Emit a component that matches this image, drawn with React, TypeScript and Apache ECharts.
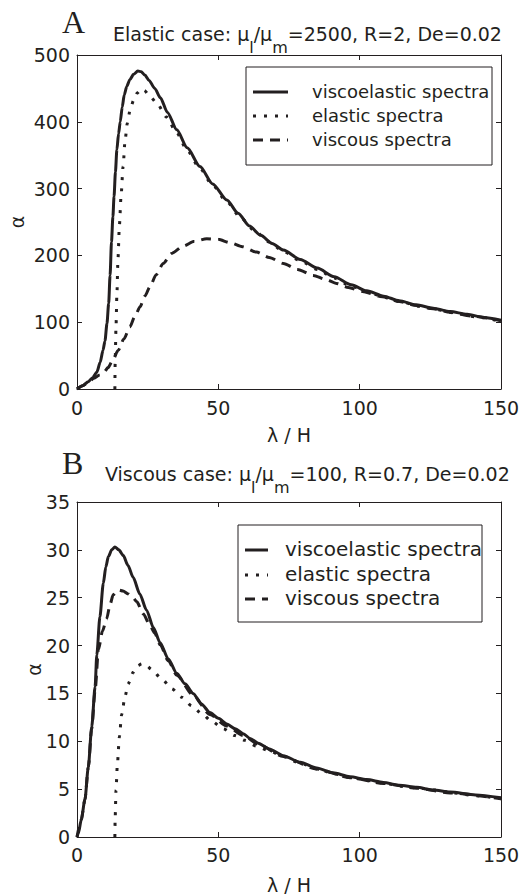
import React, { useEffect, useRef } from "react";
import * as echarts from "echarts";

// ---------------- data ----------------
const xTicks = [0, 50, 100, 150];
const yTicksA = [0, 100, 200, 300, 400, 500];
const yTicksB = [0, 5, 10, 15, 20, 25, 30, 35];

const seriesNames = ["viscoelastic spectra", "elastic spectra", "viscous spectra"];

const aVisco: number[][] = [
  [0, 0], [2, 5], [4, 11], [5.5, 17], [7, 25], [8.2, 40], [9.2, 58], [9.9, 72], [10.6, 98],
  [11.2, 128], [11.7, 170], [12.2, 220], [12.7, 258], [13.1, 288], [13.6, 325], [14.1, 358],
  [14.7, 382], [15.3, 400], [16, 422], [16.7, 440], [17.6, 453], [18.7, 463], [20, 471],
  [21.5, 476], [22.7, 475], [24, 470], [25.5, 462], [27.5, 450], [29.5, 436], [32, 414],
  [35.3, 388], [39, 361], [43.5, 333], [48, 307], [53, 283], [57, 263], [61, 244], [65, 230],
  [69, 218], [73, 208], [79, 194], [85, 181], [91, 168], [97, 156], [102.5, 147], [108.5, 139],
  [114, 132], [120, 126], [126, 121], [132, 116], [138, 112], [144, 107], [150, 103],
];
const aElastic: number[][] = [
  [13.4, 0], [13.5, 40], [13.8, 93], [14.1, 140], [14.5, 195], [15, 245], [15.6, 290],
  [16.3, 333], [17, 372], [17.8, 398], [18.8, 418], [20, 432], [21.3, 443], [22.6, 449],
  [23.8, 447], [25.5, 440], [28.2, 428], [31.7, 407], [35.3, 383], [39, 357], [43.5, 330],
  [48, 305], [53, 280], [58, 256], [63, 236], [68, 220], [73, 206], [79, 192], [85, 179],
  [91, 166], [97, 154], [103, 145], [109, 137], [115, 130], [121, 124], [127, 119], [133, 114],
  [141, 108], [150, 101],
];
const aViscous: number[][] = [
  [0, 0], [2, 5], [4, 10], [6, 16], [8, 21], [9.3, 24], [11, 32], [12.5, 42], [14.6, 58],
  [16.6, 75], [18.7, 93], [20.5, 109], [22.3, 123], [24, 139], [25.8, 153], [28, 171],
  [30.5, 188], [33.5, 203], [37.6, 214], [41.5, 221], [45.9, 225], [50, 224], [54.1, 219],
  [58.5, 213], [63.5, 205], [68, 197], [73, 188], [78, 179], [83.6, 170], [88, 164],
  [91.8, 158], [96, 152], [101, 146], [108, 138], [114, 131], [120, 125], [126, 120],
  [132, 115], [140, 109], [150, 102],
];

const bVisco: number[][] = [
  [0, 0], [0.5, 0.4], [1.5, 1.8], [2.8, 3.9], [4, 7.3], [5.2, 11.5], [6.4, 15.7], [7, 19],
  [8.1, 23], [9.3, 26.5], [10.2, 28.2], [11.1, 29.3], [12.3, 30], [13.4, 30.3], [14.8, 30],
  [16.4, 29.4], [18, 28.4], [19.9, 27.1], [22.2, 25.4], [24.6, 23.7], [27, 21.9], [29.4, 20.3],
  [32.3, 18.6], [35.3, 17.1], [38.2, 16], [41.1, 15], [44, 13.9], [47, 13], [50, 12.4],
  [53, 11.8], [56, 11.3], [58.8, 10.8], [61.2, 10.3], [64.1, 9.8], [68, 9.2], [73, 8.5],
  [79, 7.8], [84.8, 7.2], [90.5, 6.7], [96.6, 6.3], [102.5, 6], [108.4, 5.7], [114, 5.4],
  [120.2, 5.2], [126, 4.9], [132, 4.7], [141, 4.4], [150, 4.1],
];
const bElastic: number[][] = [
  [13.4, 0], [13.5, 2], [13.8, 4.9], [14.3, 7.7], [15, 10.5], [15.8, 12.8], [17, 14.7],
  [18.1, 16], [19.9, 17.2], [21.5, 17.9], [22.9, 18.1], [24.6, 17.9], [26.4, 17.5], [30, 16.5],
  [33.5, 15.5], [37, 14.6], [40.6, 13.7], [44.1, 12.9], [47.6, 12.1], [51.8, 11.3],
  [55.9, 10.6], [59.4, 10.1], [63.5, 9.5], [68, 9], [73, 8.4], [79, 7.7], [85, 7.1], [91, 6.6],
  [97, 6.2], [103, 5.9], [109, 5.6], [115, 5.3], [121, 5.1], [127, 4.9], [133, 4.6],
  [141, 4.3], [150, 4.0],
];
const bViscous: number[][] = [
  [0, 0], [1.5, 1.8], [2.8, 3.9], [4, 7.3], [5.2, 11.3], [6.4, 15.3], [7.6, 19.6], [9, 21.5],
  [10.5, 22.8], [11.7, 24.3], [12.8, 25.3], [14.6, 25.8], [16.3, 25.7], [18.1, 25.4],
  [19.8, 25], [21.1, 24.6], [23.5, 23.3], [25.5, 22.3], [27.5, 21.3], [29.4, 20.1],
  [32.3, 18.4], [35.3, 16.9], [41.1, 14.8], [47, 12.8], [53, 11.6], [58.8, 10.6], [64.1, 9.7],
  [73, 8.4], [84.8, 7.1], [96.6, 6.2], [108.4, 5.6], [120.2, 5.1], [132, 4.6], [150, 4.0],
];

// ---------------- styles ----------------
const INK = "#231f20";
const SANS = "'DejaVu Sans', sans-serif";
const SERIF = "'Liberation Serif', 'DejaVu Serif', serif";
const DOT = [3, 8];
const DASH = [10, 7];

function xAxisPair(gridIndex: number, nameGap: number, labelMargin: number) {
  const common = {
    type: "value" as const,
    gridIndex,
    min: xTicks[0],
    max: xTicks[xTicks.length - 1],
    interval: xTicks[1] - xTicks[0],
    splitLine: { show: false },
    axisLine: { show: true, onZero: false, lineStyle: { color: INK, width: 1 } },
    axisTick: { show: true, inside: true, length: 5, lineStyle: { color: INK } },
  };
  return [
    {
      ...common,
      position: "bottom",
      name: "λ / H",
      nameLocation: "middle",
      nameGap,
      nameMoveOverlap: false,
      nameTextStyle: { fontFamily: SANS, fontSize: 19, color: INK },
      axisLabel: { show: true, margin: labelMargin, fontFamily: SANS, fontSize: 19, color: INK },
    },
    { ...common, position: "top", axisLabel: { show: false } },
  ];
}

function yAxisPair(gridIndex: number, ticks: number[], nameGap: number) {
  const common = {
    type: "value" as const,
    gridIndex,
    min: ticks[0],
    max: ticks[ticks.length - 1],
    interval: ticks[1] - ticks[0],
    splitLine: { show: false },
    axisLine: { show: true, onZero: false, lineStyle: { color: INK, width: 1 } },
    axisTick: { show: true, inside: true, length: 5, lineStyle: { color: INK } },
  };
  return [
    {
      ...common,
      position: "left",
      name: "α",
      nameLocation: "middle",
      nameGap,
      nameRotate: 90,
      nameMoveOverlap: false,
      nameTextStyle: { fontFamily: SANS, fontSize: 19, color: INK },
      axisLabel: { show: true, margin: 7, fontFamily: SANS, fontSize: 19, color: INK },
    },
    { ...common, position: "right", axisLabel: { show: false } },
  ];
}

function lineSeries(name: string, data: number[][], axisIdx: number, dash: any) {
  return {
    type: "line",
    name,
    data,
    xAxisIndex: axisIdx,
    yAxisIndex: axisIdx,
    showSymbol: false,
    symbol: "none",
    smooth: 0.25,
    smoothMonotone: "x",
    lineStyle: { color: INK, width: 3, type: dash, cap: "butt" },
    z: 3,
  };
}

function legendBlock(
  box: { x: number; y: number; w: number; h: number },
  sample: { x1: number; x2: number },
  textX: number,
  rows: number[],
  fontSize: number
) {
  const dashes = ["solid", DOT, DASH];
  const els: any[] = [
    {
      type: "rect",
      z: 100,
      shape: { x: box.x, y: box.y, width: box.w, height: box.h },
      style: { fill: "#ffffff", stroke: INK, lineWidth: 1 },
    },
  ];
  rows.forEach((ry, i) => {
    els.push({
      type: "line",
      z: 101,
      shape: { x1: sample.x1, y1: ry, x2: sample.x2, y2: ry },
      style: {
        stroke: INK,
        lineWidth: 3,
        lineDash: dashes[i] === "solid" ? null : dashes[i],
        lineCap: "butt",
      },
    });
    els.push({
      type: "text",
      z: 102,
      x: textX,
      y: ry - 1,
      style: {
        text: seriesNames[i],
        fontFamily: SANS,
        fontSize,
        fill: INK,
        verticalAlign: "middle",
        align: "left",
      },
    });
  });
  return els;
}

const richTitle = {
  t: { fontFamily: SANS, fontSize: 19, lineHeight: 21, padding: [0, 0, 12, 0], verticalAlign: "bottom", fill: INK, color: INK },
  s: { fontFamily: SANS, fontSize: 16, lineHeight: 19, verticalAlign: "bottom", fill: INK, color: INK },
};

export default function App() {
  const ref = useRef<HTMLDivElement>(null);
  useEffect(() => {
    if (!ref.current) return;
    const chart = echarts.init(ref.current, null, { renderer: "svg" });
    const option: any = {
      animation: false,
      backgroundColor: "#ffffff",
      grid: [
        { left: 77, top: 55, width: 424, height: 334, containLabel: false, outerBoundsMode: "none" },
        { left: 77, top: 502, width: 424, height: 335, containLabel: false, outerBoundsMode: "none" },
      ],
      xAxis: [...xAxisPair(0, 36, 9), ...xAxisPair(1, 38, 8)],
      yAxis: [...yAxisPair(0, yTicksA, 51), ...yAxisPair(1, yTicksB, 34)],
      series: [
        lineSeries(seriesNames[2], aViscous, 0, DASH),
        lineSeries(seriesNames[1], aElastic, 0, DOT),
        lineSeries(seriesNames[0], aVisco, 0, "solid"),
        lineSeries(seriesNames[2], bViscous, 2, DASH),
        lineSeries(seriesNames[1], bElastic, 2, DOT),
        lineSeries(seriesNames[0], bVisco, 2, "solid"),
      ],
      graphic: [
        {
          type: "text",
          z: 100,
          x: 62,
          y: 22,
          style: { text: "A", fontFamily: SERIF, fontSize: 32, fill: INK, verticalAlign: "middle" },
        },
        {
          type: "text",
          z: 100,
          x: 113,
          y: 55,
          style: {
            text: "{t|Elastic case: μ}{s|l}{t|/μ}{s|m}{t|=2500, R=2, De=0.02}",
            rich: richTitle,
            verticalAlign: "bottom",
            fill: INK,
          },
        },
        {
          type: "text",
          z: 100,
          x: 62,
          y: 463,
          style: { text: "B", fontFamily: SERIF, fontSize: 32, fill: INK, verticalAlign: "middle" },
        },
        {
          type: "text",
          z: 100,
          x: 105,
          y: 495,
          style: {
            text: "{t|Viscous case: μ}{s|l}{t|/μ}{s|m}{t|=100, R=0.7, De=0.02}",
            rich: richTitle,
            verticalAlign: "bottom",
            fill: INK,
          },
        },
        ...legendBlock({ x: 246, y: 67, w: 246, h: 98 }, { x1: 253, x2: 288 }, 312, [92, 116, 140], 18),
        ...legendBlock({ x: 238, y: 525, w: 244, h: 97 }, { x1: 245, x2: 268 }, 285, [550, 575, 599], 20),
      ],
    };
    chart.setOption(option);
    return () => chart.dispose();
  }, []);
  return (
    <div
      ref={ref}
      style={{ position: "fixed", left: 0, top: 0, width: 521, height: 896, background: "#fff" }}
    />
  );
}
